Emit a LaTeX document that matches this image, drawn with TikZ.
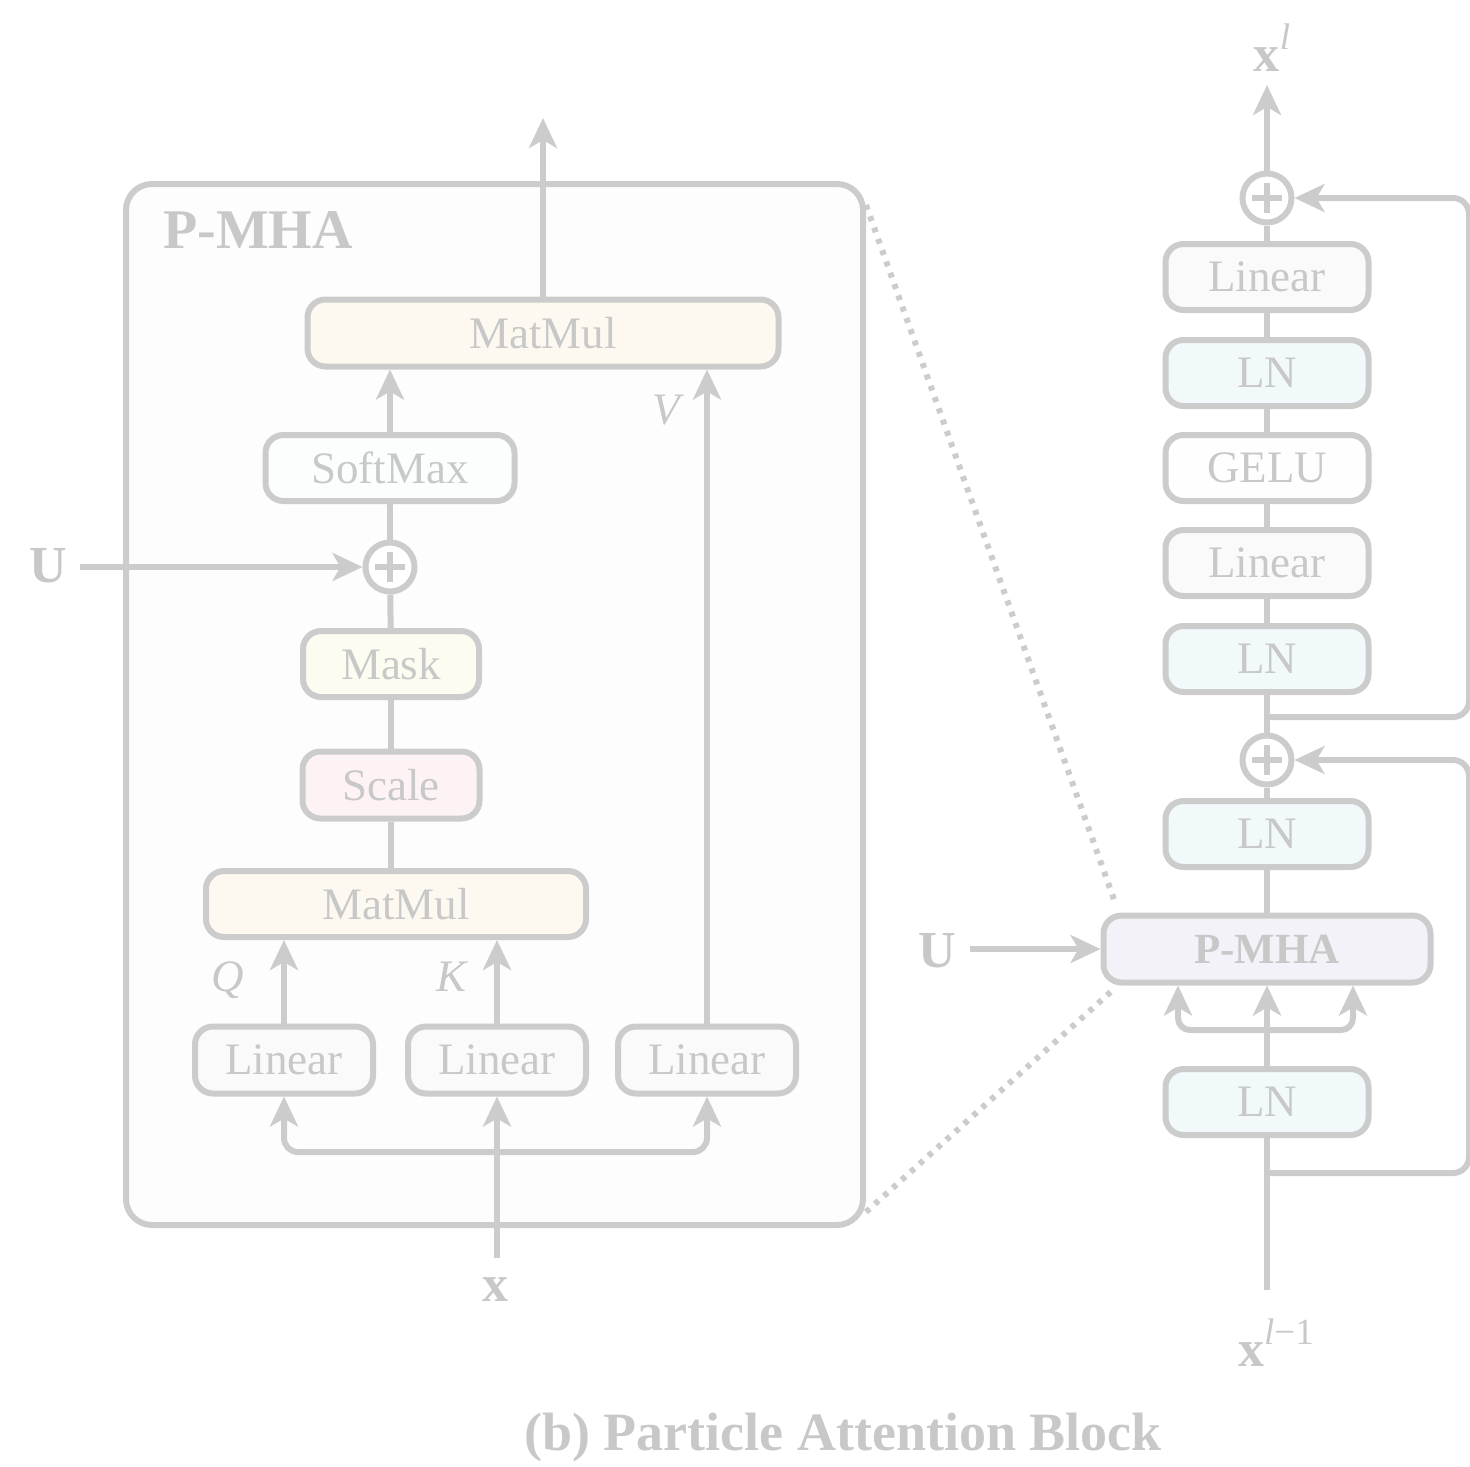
\documentclass[tikz,border=0pt]{standalone}
\usepackage{fontspec}
\setmainfont{Liberation Serif}
\usetikzlibrary{arrows.meta}
\definecolor{edge}{HTML}{CCCCCC}
\definecolor{ink}{HTML}{C8C8C8}
\definecolor{linfill}{HTML}{FAFAFA}
\definecolor{lnfill}{HTML}{F2F9FB}
\definecolor{gelufill}{HTML}{FEFEFE}
\definecolor{mmfill}{HTML}{FEF9F0}
\definecolor{smfill}{HTML}{FAFEFC}
\definecolor{maskfill}{HTML}{FCFCF1}
\definecolor{scalefill}{HTML}{FDF3F5}
\definecolor{pmhafill}{HTML}{F3F2F8}
\definecolor{outerfill}{HTML}{FDFDFE}
\begin{document}
\begin{tikzpicture}[x=1pt,y=-1pt,
  conn/.style={draw=edge, line width=6pt},
  arr/.style={conn, -{Stealth[length=30pt,width=28pt,inset=8pt]}},
  dots/.style={draw=edge, line width=6pt, dash pattern=on 5pt off 7pt},
  box/.style={draw=edge, line width=6pt, rounded corners=18pt, inner sep=0pt,
    text=ink, font=\fontsize{45}{50}\selectfont},
  linbox/.style={box, fill=linfill},
  lnbox/.style={box, fill=lnfill},
  colbox/.style={minimum width=203pt, minimum height=66pt},
  sumnode/.style={circle, draw=edge, line width=6pt, fill=white,
    minimum size=49pt, inner sep=0pt,
    path picture={\draw[edge, line width=6pt]
      ([xshift=-15pt]path picture bounding box.center) -- ([xshift=15pt]path picture bounding box.center)
      ([yshift=-15pt]path picture bounding box.center) -- ([yshift=15pt]path picture bounding box.center);}},
  lbl/.style={text=ink, inner sep=0pt, font=\fontsize{52}{56}\selectfont\bfseries},
  sym/.style={text=ink, inner sep=0pt, font=\fontsize{45}{50}\selectfont\itshape}]
\useasboundingbox (0,0) rectangle (1470,1467);

% ---------- expanded P-MHA ----------
\node[draw=edge, line width=6pt, rounded corners=26pt, fill=outerfill,
      minimum width=737pt, minimum height=1041pt] (outer) at (494.5,704.5) {};
\node[lbl, font=\fontsize{56}{60}\selectfont\bfseries] (title) at (258,230) {P-MHA};

\node[box, fill=mmfill, minimum width=471pt, minimum height=67pt] (mm2) at (543,333) {MatMul};
\node[box, fill=smfill, minimum width=249pt, minimum height=66pt] (softmax) at (390,468) {SoftMax};
\node[sumnode] (sumA) at (390,567) {};
\node[box, fill=maskfill, minimum width=176pt, minimum height=66pt] (mask) at (391,664) {Mask};
\node[box, fill=scalefill, minimum width=177pt, minimum height=67pt] (scale) at (391,785) {Scale};
\node[box, fill=mmfill, minimum width=380pt, minimum height=66pt] (mm1) at (396,904) {MatMul};
\node[linbox, minimum width=178pt, minimum height=67pt] (lq) at (284,1060) {Linear};
\node[linbox, minimum width=178pt, minimum height=67pt] (lk) at (497,1060) {Linear};
\node[linbox, minimum width=178pt, minimum height=67pt] (lv) at (707,1060) {Linear};

\coordinate (outtop) at (543,118);
\coordinate (uin) at (80,567);
\coordinate (xin) at (497,1258);
\coordinate (split) at (497,1152);

\node[lbl] (ulab) at (48,566) {U};
\node[lbl] (xlab) at (495,1290) {x};
\node[sym] (qlab) at (228,980) {Q};
\node[sym] (klab) at (452,977) {K};
\node[sym] (vlab) at (666,410) {V};

\draw[arr] (mm2) -- (outtop);
\draw[arr] (softmax.north) -- (softmax.north |- mm2.south);
\draw[conn] (sumA) -- (softmax);
\draw[conn] (mask) -- (sumA);
\draw[conn] (scale) -- (mask);
\draw[conn] (scale.south) -- (scale.south |- mm1.north);
\draw[arr] (lq.north) -- (lq.north |- mm1.south);
\draw[arr] (lk.north) -- (lk.north |- mm1.south);
\draw[arr] (lv.north) -- (lv.north |- mm2.south);
\draw[arr] (uin) -- (sumA.west);
\draw[arr] (xin) -- (lk.south);
\draw[arr, rounded corners=14pt] (split) -| (lq.south);
\draw[arr, rounded corners=14pt] (split) -| (lv.south);

% ---------- block column ----------
\node[sumnode] (sumB) at (1267,198) {};
\node[linbox, colbox] (lin4) at (1267,277) {Linear};
\node[lnbox, colbox] (ln3) at (1267,373) {LN};
\node[box, fill=gelufill, colbox] (gelu) at (1267,468) {GELU};
\node[linbox, colbox] (lin3) at (1267,563) {Linear};
\node[lnbox, colbox] (ln2) at (1267,659) {LN};
\node[sumnode] (sumC) at (1267,760) {};
\node[lnbox, colbox] (ln1) at (1267,834) {LN};
\node[box, fill=pmhafill, minimum width=327pt, minimum height=67pt,
      font=\fontsize{43}{50}\selectfont\bfseries] (pmha) at (1267,949) {P-MHA};
\node[lnbox, colbox] (ln0) at (1267,1102) {LN};

\coordinate (outR) at (1267,85);
\coordinate (tap1) at (1267,717);
\coordinate (tap2) at (1267,1173);
\coordinate (xbot) at (1267,1290);
\coordinate (pmsplit) at (1267,1030);
\coordinate (uR) at (970,949);

\node[lbl] (xl) at (1272,48) {x\raisebox{0.42em}{\fontsize{37}{37}\selectfont\mdseries\itshape l}};
\node[lbl] (xlm) at (1276,1343) {x\raisebox{0.42em}{\fontsize{37}{37}\selectfont\mdseries\itshape l\upshape −1}};
\node[lbl] (uRl) at (937,951) {U};

\draw[arr] (sumB) -- (outR);
\draw[conn] (lin4) -- (sumB);
\draw[conn] (ln3) -- (lin4);
\draw[conn] (gelu) -- (ln3);
\draw[conn] (lin3) -- (gelu);
\draw[conn] (ln2) -- (lin3);
\draw[conn] (sumC) -- (ln2);
\draw[conn] (ln1) -- (sumC);
\draw[conn] (pmha) -- (ln1);
\draw[arr] (ln0) -- (pmha);
\draw[conn] (xbot) -- (ln0);
\draw[arr] (uR) -- (pmha);
\draw[arr, rounded corners=12pt] (pmsplit) -| ([xshift=-89pt]pmha.south);
\draw[arr, rounded corners=12pt] (pmsplit) -| ([xshift=86pt]pmha.south);
\draw[arr, rounded corners=16pt] (tap1) -- (1469,717) -- (1469,198) -- (sumB.east);
\draw[arr, rounded corners=16pt] (tap2) -- (1469,1173) -- (1469,760) -- (sumC.east);

% ---------- zoom guides ----------
\coordinate (g1) at (866,205);
\coordinate (g2) at (1116,905);
\coordinate (g3) at (866,1212);
\coordinate (g4) at (1114,989);
\draw[dots] (g1) -- (g2);
\draw[dots] (g3) -- (g4);

\node[lbl, font=\fontsize{54}{60}\selectfont\bfseries] (caption) at (843,1437) {(b) Particle Attention Block};
\end{tikzpicture}
\end{document}
